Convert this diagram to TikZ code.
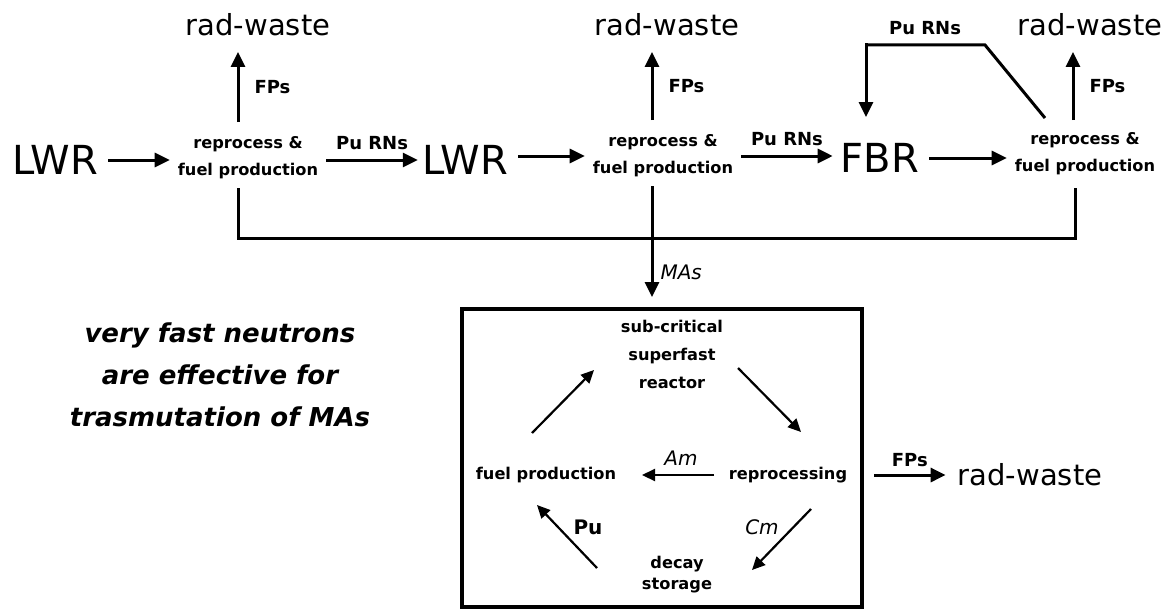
\documentclass[tikz,border=0pt]{standalone}
\usepackage{fontspec}
\setmainfont{DejaVu Sans}[BoldFont={DejaVu Sans Bold},ItalicFont={DejaVu Sans Oblique},BoldItalicFont={DejaVu Sans Bold Oblique}]
\usetikzlibrary{arrows.meta}
\begin{document}
\begin{tikzpicture}[x=1pt,y=-1pt,
  big/.style={font=\fontsize{40}{42}\selectfont, inner sep=10pt},
  waste/.style={font=\fontsize{29}{30}\selectfont, inner sep=12pt},
  rp/.style={font=\fontsize{16.2}{27}\selectfont\bfseries, align=center, inner sep=8pt},
  inner/.style={font=\fontsize{16.2}{28}\selectfont\bfseries, align=center, inner sep=2pt},
  lbl/.style={font=\fontsize{18}{20}\selectfont\bfseries, inner sep=1pt},
  ilbl/.style={font=\fontsize{20}{22}\selectfont\itshape, inner sep=1pt},
  arr/.style={line width=3pt, -{Triangle[length=15pt,width=14pt]}},
  tarr/.style={line width=2.2pt, -{Triangle[length=13pt,width=12pt]}},
  plain/.style={line width=3pt},
  boxstyle/.style={draw, line width=4pt, minimum width=400pt, minimum height=298pt, inner sep=0pt}
]
\useasboundingbox (0,0) rectangle (1172,610);
\fill[white] (0,0) rectangle (1172,610);

% top row
\node[big] (lwr1) at (55,160) {LWR};
\node[rp] (rp1) at (248,158) {reprocess \&\\fuel production};
\node[big] (lwr2) at (465,160) {LWR};
\node[rp] (rp2) at (663,156) {reprocess \&\\fuel production};
\node[big] (fbr) at (880,158) {FBR};
\node[rp] (rp3) at (1085,154) {reprocess \&\\fuel production};

\node[waste] (rw1) at (258,25) {rad-waste};
\node[waste] (rw2) at (667,25) {rad-waste};
\node[waste] (rw3) at (1090,25) {rad-waste};

\draw[arr] (lwr1.east) -- (rp1.west |- lwr1.east);
\draw[arr] (rp1.east |- lwr1.east) -- node[lbl, above=8pt] {Pu RNs} ([xshift=6pt]lwr2.west);
\draw[arr] (lwr2.east |- rp2.center) -- (rp2.west);
\draw[arr] (rp2.east) -- node[lbl, above=8pt] {Pu RNs} ([xshift=2pt]fbr.west |- rp2.east);
\draw[arr] (fbr.east) -- (rp3.west |- fbr.east);

\draw[arr] ([shift={(-10,-36)}]rp1.center) -- node[lbl, right=14pt] {FPs} ([shift={(-20,27)}]rw1.center);
\draw[arr] ([shift={(-11,-36)}]rp2.center) -- node[lbl, right=14pt] {FPs} ([shift={(-15,27)}]rw2.center);
\draw[arr] ([shift={(-12,-34)}]rp3.center) -- node[lbl, right=14pt] {FPs} ([shift={(-17,27)}]rw3.center);

% Pu RNs loop
\coordinate (lt) at (985,45);
\coordinate (lc) at (866,45);
\draw[plain, line join=miter] ([shift={(-40,-36)}]rp3.center) -- (lt) -- (lc);
\draw[arr] ([yshift=1.5pt]lc) -- ([shift={(-14,-41)}]fbr.center);
\node[lbl] (purn3) at (925,28) {Pu RNs};

% bottom collecting line
\coordinate (bl) at (238,238);
\coordinate (br) at (1075,238);
\draw[plain] ([shift={(-10,30)}]rp1.center) -- (bl) -- (br) -- ([shift={(-10,34)}]rp3.center);

% box
\node[boxstyle] (box) at (662,458) {};
\draw[arr] ([shift={(-11,30)}]rp2.center) -- node[ilbl, right=6pt, pos=0.78] {MAs} ([shift={(-10,-10)}]box.north);

% inside box
\node[inner] (reac) at (672,354) {sub-critical\\superfast\\reactor};
\node[inner] (repr) at (788,475) {reprocessing};
\node[inner] (fuel) at (546,475) {fuel production};
\node[inner, font=\fontsize{16.2}{21}\selectfont\bfseries] (decay) at (677,575) {decay\\storage};

\draw[tarr] ([shift={(66,14)}]reac.center) -- ([shift={(13,-43)}]repr.center);
\draw[tarr] ([shift={(-74,0)}]repr.center) -- ([shift={(96,0)}]fuel.center);
\draw[tarr] ([shift={(23,34)}]repr.center) -- ([shift={(75,-5)}]decay.center);
\draw[tarr] ([shift={(-80,-7)}]decay.center) -- ([shift={(-9,30)}]fuel.center);
\draw[tarr] ([shift={(-14,-42)}]fuel.center) -- ([shift={(-78,16)}]reac.center);

\node[ilbl] (am) at (681,458) {Am};
\node[ilbl] (cm) at (762,527) {Cm};
\node[lbl, font=\fontsize{20}{22}\selectfont\bfseries] (pu) at (588,527) {Pu};

% output
\node[waste] (rw4) at (1030,475) {rad-waste};
\draw[arr] ([xshift=10pt]box.east |- repr.center) -- node[lbl, above=6pt] {FPs} (rw4.west);

% comment text
\node[font=\fontsize{26}{42}\selectfont\bfseries\itshape, align=center] (note) at (220,375) {very fast neutrons\\are effective for\\trasmutation of MAs};
\end{tikzpicture}
\end{document}
